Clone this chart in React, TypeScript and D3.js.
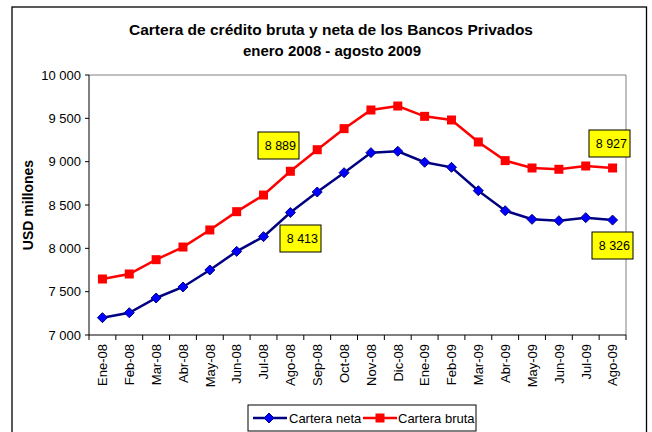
import React from 'react';
import * as d3 from 'd3';

const months = ['Ene-08', 'Feb-08', 'Mar-08', 'Abr-08', 'May-08', 'Jun-08', 'Jul-08', 'Ago-08', 'Sep-08', 'Oct-08',
  'Nov-08', 'Dic-08', 'Ene-09', 'Feb-09', 'Mar-09', 'Abr-09', 'May-09', 'Jun-09', 'Jul-09', 'Ago-09'];
const neta = [7200, 7257, 7427, 7554, 7750, 7965, 8135, 8413, 8650, 8873,
  9104, 9120, 8993, 8935, 8665, 8434, 8335, 8319, 8354, 8326];
const bruta = [7646, 7704, 7869, 8015, 8212, 8423, 8615, 8889, 9138, 9381,
  9596, 9642, 9523, 9481, 9227, 9012, 8927, 8912, 8950, 8927];
const yTicks = [7000, 7500, 8000, 8500, 9000, 9500, 10000];

const font = 'Arial, "Liberation Sans", sans-serif';

const fmt = (v: number) => {
  const s = String(v);
  return s.length > 3 ? s.slice(0, s.length - 3) + ' ' + s.slice(-3) : s;
};

export default function App() {
  const width = 652, height = 432;
  const left = 89, right = 626, top = 75, bottom = 335;

  const x = d3.scaleBand<string>().domain(months).range([left, right]);
  const y = d3.scaleLinear().domain([7000, 10000]).range([bottom, top]);
  const cx = (i: number) => (x(months[i]) as number) + x.bandwidth() / 2;

  const line = d3.line<number>()
    .x((d, i) => cx(i))
    .y((d) => y(d));

  // callouts: [series, index, box left, box top]
  const callouts: [number[], number, number, number][] = [
    [bruta, 7, 258, 132],
    [neta, 7, 280, 225],
    [bruta, 19, 589, 130],
    [neta, 19, 592, 232],
  ];

  const ticksX = months.map((m) => x(m) as number).concat([right]);

  return (
    <svg width={width} height={height} style={{ position: 'absolute', left: 0, top: 0 }}>
      <rect x={0} y={0} width={width} height={height} fill="#fff" />
      <rect x={12} y={7} width={634.5} height={440} fill="#fff" stroke="#000" strokeWidth={1.3} />

      <text x={331} y={35} textAnchor="middle" fontFamily={font} fontWeight="bold" fontSize={15}
        textLength={404} lengthAdjust="spacingAndGlyphs">
        Cartera de crédito bruta y neta de los Bancos Privados
      </text>
      <text x={332} y={56} textAnchor="middle" fontFamily={font} fontWeight="bold" fontSize={15}
        textLength={178} lengthAdjust="spacingAndGlyphs">
        enero 2008 - agosto 2009
      </text>

      {/* plot frame */}
      <line x1={left} x2={right} y1={top} y2={top} stroke="#808080" strokeWidth={1} />
      <line x1={right} x2={right} y1={top} y2={bottom} stroke="#808080" strokeWidth={1} />
      <line x1={left} x2={left} y1={top} y2={bottom} stroke="#000" strokeWidth={1} />
      <line x1={left} x2={right} y1={bottom} y2={bottom} stroke="#000" strokeWidth={1} />

      {yTicks.map((t) => (
        <g key={t}>
          <line x1={left - 4} x2={left} y1={y(t)} y2={y(t)} stroke="#000" />
          <text x={left - 8} y={y(t) + 4.5} textAnchor="end" fontFamily={font} fontSize={13}>{fmt(t)}</text>
        </g>
      ))}
      <text transform={`translate(33,205) rotate(-90)`} textAnchor="middle" fontFamily={font}
        fontWeight="bold" fontSize={14}>USD millones</text>

      {ticksX.map((t, i) => (
        <line key={i} x1={t} x2={t} y1={bottom} y2={bottom + 5} stroke="#000" />
      ))}
      {months.map((m, i) => (
        <text key={m} transform={`translate(${cx(i) + 4.8},${bottom + 9}) rotate(-90)`} textAnchor="end"
          fontFamily={font} fontSize={13}>{m}</text>
      ))}

      <path d={line(bruta) as string} fill="none" stroke="#FF0000" strokeWidth={2.5} />
      {bruta.map((v, i) => (
        <rect key={i} x={cx(i) - 4.5} y={y(v) - 4.5} width={9} height={9} fill="#FF0000" />
      ))}
      <path d={line(neta) as string} fill="none" stroke="#000080" strokeWidth={2.5} />
      {neta.map((v, i) => (
        <path key={i} d={`M${cx(i)},${y(v) - 5}L${cx(i) + 5},${y(v)}L${cx(i)},${y(v) + 5}L${cx(i) - 5},${y(v)}Z`}
          fill="#0000FF" stroke="#000080" strokeWidth={1} />
      ))}

      {callouts.map(([s, i, bx, by], k) => (
        <g key={k}>
          <rect x={bx} y={by} width={41} height={27} fill="#FFFF00" stroke="#000" strokeWidth={1} />
          <text x={bx + 38} y={by + 18} textAnchor="end" fontFamily={font} fontSize={12.5}>{fmt(s[i])}</text>
        </g>
      ))}

      {/* legend */}
      <rect x={248} y={405} width={228} height={26} fill="#fff" stroke="#000" strokeWidth={1} />
      <line x1={253} x2={287} y1={418} y2={418} stroke="#000080" strokeWidth={2.5} />
      <path d="M269,413L274,418L269,423L264,418Z" fill="#0000FF" stroke="#000080" />
      <text x={289} y={422.5} fontFamily={font} fontSize={13}>Cartera neta</text>
      <line x1={363} x2={397} y1={418} y2={418} stroke="#FF0000" strokeWidth={2.5} />
      <rect x={375.5} y={413.5} width={9} height={9} fill="#FF0000" />
      <text x={398} y={422.5} fontFamily={font} fontSize={13}>Cartera bruta</text>
    </svg>
  );
}
